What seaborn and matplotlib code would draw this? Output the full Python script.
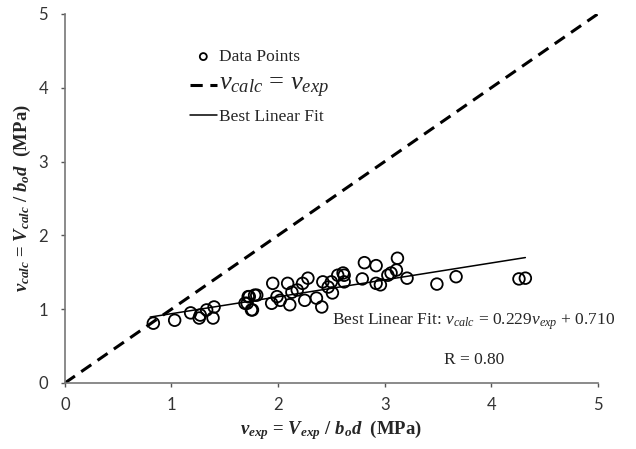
import numpy as np
import pandas as pd
import matplotlib
matplotlib.use("Agg")
import matplotlib.pyplot as plt
import seaborn as sns

# valores (MPa)
v_exp = [0.83, 1.03, 1.18, 1.26, 1.27, 1.33, 1.39, 1.40, 1.71, 1.75, 1.73, 1.78,
         1.69, 1.76, 1.72, 1.80, 1.95, 1.94, 1.99, 2.02, 2.09, 2.11, 2.13, 2.18,
         2.23, 2.28, 2.25, 2.36, 2.41, 2.42, 2.47, 2.51, 2.50, 2.56, 2.62, 2.62,
         2.61, 2.79, 2.81, 2.92, 2.92, 2.96, 3.03, 3.06, 3.11, 3.12, 3.21, 3.49,
         3.67, 4.26, 4.32]
v_calc = [0.81, 0.85, 0.95, 0.88, 0.92, 0.99, 0.88, 1.03, 1.08, 0.99, 1.17, 1.19,
          1.08, 0.99, 1.17, 1.19, 1.35, 1.08, 1.17, 1.12, 1.35, 1.06, 1.23, 1.26,
          1.35, 1.42, 1.12, 1.15, 1.03, 1.37, 1.30, 1.22, 1.37, 1.46, 1.46, 1.37,
          1.49, 1.41, 1.63, 1.59, 1.35, 1.33, 1.46, 1.49, 1.53, 1.69, 1.42, 1.34,
          1.44, 1.41, 1.42]
pendiente = 0.229
intercepto = 0.710
fit_x = [0.80, 4.32]
igual = [0, 5]

df = pd.DataFrame({"v_exp": v_exp, "v_calc": v_calc})
fit = pd.DataFrame({"x": fit_x, "y": [pendiente * x + intercepto for x in fit_x]})

sns.set_style("white")
plt.rcParams["mathtext.fontset"] = "custom"
plt.rcParams["mathtext.rm"] = "Liberation Serif"
plt.rcParams["mathtext.it"] = "Liberation Serif:italic"
plt.rcParams["mathtext.bf"] = "Liberation Serif:bold"
plt.rcParams["mathtext.bfit"] = "Liberation Serif:bold:italic"

fig = plt.figure(figsize=(6.36, 4.49), dpi=100)
ax = fig.add_axes([0.102, 0.147, 0.838, 0.822])

sns.scatterplot(data=df, x="v_exp", y="v_calc", ax=ax, marker="o", s=70,
                facecolor="none", edgecolor="black", linewidth=1.3,
                label="Data Points", zorder=3)
ax.plot(igual, igual, color="black", linestyle=(0, (4, 2.5)), linewidth=2.2,
        label=r"$v_{calc}$ = $v_{exp}$")
sns.lineplot(data=fit, x="x", y="y", ax=ax, color="black", linewidth=1.1,
             label="Best Linear Fit")

ax.set_xlim(0, 5)
ax.set_ylim(0, 5)
ax.set_xticks(range(6))
ax.set_yticks(range(6))
for t in ax.get_xticklabels() + ax.get_yticklabels():
    t.set_fontfamily("Lato")
    t.set_fontsize(12)
    t.set_color("#333333")
ax.tick_params(direction="out", length=3, width=1, color="#555555",
               bottom=True, left=True)
ax.tick_params(axis="x", pad=7)
ax.tick_params(axis="y", pad=9)
sns.despine(ax=ax)
for s in ["left", "bottom"]:
    ax.spines[s].set_color("#777777")
    ax.spines[s].set_linewidth(1.2)

ax.set_xlabel(r"$\mathbfit{v}_{\mathbfit{exp}}$ = $\mathbfit{V}_{\mathbfit{exp}}$ / $\mathbfit{b}_{\mathbfit{o}}\mathbfit{d}$  (MPa)",
              fontsize=13.5, family="Liberation Serif", fontweight="bold", labelpad=4)
ax.set_ylabel(r"$\mathbfit{v}_{\mathbfit{calc}}$ = $\mathbfit{V}_{\mathbfit{calc}}$ / $\mathbfit{b}_{\mathbfit{o}}\mathbfit{d}$  (MPa)",
              fontsize=13.5, family="Liberation Serif", fontweight="bold", labelpad=4)

ax.text(3.83, 0.83, r"Best Linear Fit: $v_{calc}$ = 0.229$v_{exp}$ + 0.710",
        fontsize=12.5, family="Liberation Serif", ha="center", va="center")
ax.text(3.84, 0.31, "R = 0.80", fontsize=12.5, family="Liberation Serif",
        ha="center", va="center")

leg = ax.legend(loc="upper left", bbox_to_anchor=(0.2345, 0.905), frameon=False,
                borderpad=0, borderaxespad=0, markerscale=0.6,
                prop={"family": "Liberation Serif", "size": 12.5},
                handlelength=1.55, labelspacing=0.5, handletextpad=0.15)
leg.get_texts()[1].set_fontsize(19)

fig.savefig("out.png", dpi=100)
